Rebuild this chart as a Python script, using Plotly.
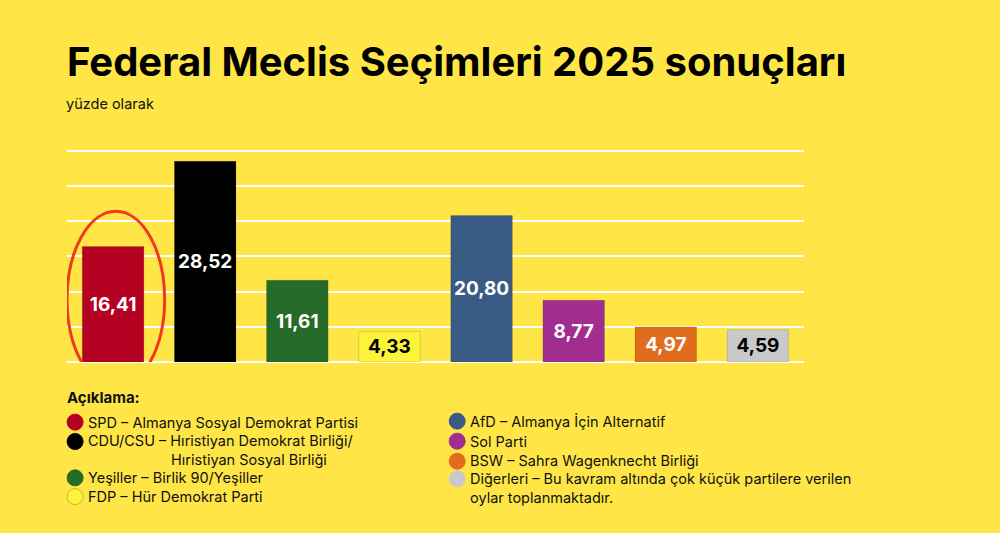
import plotly.graph_objects as go

parties = ["SPD", "CDU/CSU", "Yeşiller", "FDP", "AfD", "Sol Parti", "BSW", "Diğerleri"]
values = [16.41, 28.52, 11.61, 4.33, 20.80, 8.77, 4.97, 4.59]
labels = ["16,41", "28,52", "11,61", "4,33", "20,80", "8,77", "4,97", "4,59"]
colors = ["#B40021", "#000000", "#276B2B", "#FCF33A", "#3A5A86", "#A22D90", "#E06D1D", "#C9C9C9"]
text_colors = ["white", "white", "white", "black", "white", "white", "white", "black"]

legend_left = [
    ("SPD – Almanya Sosyal Demokrat Partisi", None),
    ("CDU/CSU – Hıristiyan Demokrat Birliği/", "Hıristiyan Sosyal Birliği"),
    ("Yeşiller – Birlik 90/Yeşiller", None),
    ("FDP – Hür Demokrat Parti", None),
]
legend_right = [
    ("AfD – Almanya İçin Alternatif", None),
    ("Sol Parti", None),
    ("BSW – Sahra Wagenknecht Birliği", None),
    ("Diğerleri – Bu kavram altında çok küçük partilere verilen", "oylar toplanmaktadır."),
]

BG = "#FFE646"
FONT = "Inter"
W, H = 1000, 533
YMAX = 30.4
ML, MR, MB = 66.6, 1000 - 804, 533 - 361.7
MT = 151 - (YMAX - 30) * (361.7 - 151) / 30
PW, PH = W - ML - MR, H - MT - MB

fig = go.Figure()
fig.add_trace(go.Bar(
    x=list(range(len(parties))), y=values,
    marker=dict(color=colors, line=dict(color="rgba(0,0,0,0.12)", width=1)),
    width=0.668,
    text=labels, textposition="inside", insidetextanchor="middle",
    textangle=0, constraintext="none",
    textfont=dict(family=FONT, size=19, color=text_colors, weight="bold"),
    hoverinfo="skip",
))

fig.update_layout(
    width=W, height=H,
    paper_bgcolor=BG, plot_bgcolor=BG,
    margin=dict(l=ML, r=MR, t=MT, b=MB, pad=0),
    showlegend=False,
    xaxis=dict(range=[-0.5, 7.5], visible=False, fixedrange=True),
    yaxis=dict(range=[0, YMAX], tick0=0, dtick=5, showgrid=True, gridcolor="white", gridwidth=1.5,
               zeroline=True, zerolinecolor="white", zerolinewidth=1.5,
               showticklabels=False, ticks="", showline=False, fixedrange=True),
    font=dict(family=FONT, color="#111111"),
)

# highlight ellipse around SPD bar (data coords)
fig.add_shape(type="circle", xref="x", yref="y",
              x0=0 - 0.5, x1=0 + 0.56, y0=-3.6, y1=values[0] + 5.0,
              line=dict(color="#F03A1E", width=3), layer="above")

def px2x(px):
    return (px - ML - 2) / PW

def py2y(py):
    return (H - MB - py) / PH

annotations = [
    dict(text="<b>Federal Meclis Seçimleri 2025 sonuçları</b>", x=px2x(66.5), y=py2y(62),
         font=dict(size=40, family=FONT, color="#000000")),
    dict(text="yüzde olarak", x=px2x(66), y=py2y(104), font=dict(size=14.5, family=FONT, color="#111111")),
    dict(text="<b>Açıklama:</b>", x=px2x(66.5), y=py2y(397), font=dict(size=15, family=FONT, color="#111111")),
]

LEG_SIZE = 14.5
left_y = [421.7, 441.0, 477.3, 496.0]
right_y = [420.7, 440.7, 460.7, 478.3]
line_gap = 18.6

def add_legend(items, ys, circ_x, text_x, cols, indent_x=None):
    for (t1, t2), yy, c in zip(items, ys, cols):
        annotations.append(dict(text=t1, x=px2x(text_x), y=py2y(yy),
                                font=dict(size=LEG_SIZE, family=FONT, color="#111111")))
        if t2:
            annotations.append(dict(text=t2, x=px2x(indent_x if indent_x else text_x), y=py2y(yy + line_gap),
                                    font=dict(size=LEG_SIZE, family=FONT, color="#111111")))
        fig.add_shape(type="circle", xref="paper", yref="paper",
                      xsizemode="pixel", ysizemode="pixel",
                      xanchor=px2x(circ_x + 2), yanchor=py2y(yy),
                      x0=-8, x1=8, y0=-8, y1=8,
                      fillcolor=c,
                      line=dict(color="rgba(150,130,0,0.5)" if c == "#FCF33A" else c, width=1))

add_legend(legend_left, left_y, 74.7, 87.5, colors[:4], indent_x=170.5)
add_legend(legend_right, right_y, 457, 469.5, colors[4:])

for a in annotations:
    a.update(xref="paper", yref="paper", xanchor="left", yanchor="middle", showarrow=False, align="left")
fig.update_layout(annotations=annotations)

fig.write_html("out.html", config={"displayModeBar": False},
               post_script="document.body.style.margin='0';document.body.style.background='%s';" % BG)
